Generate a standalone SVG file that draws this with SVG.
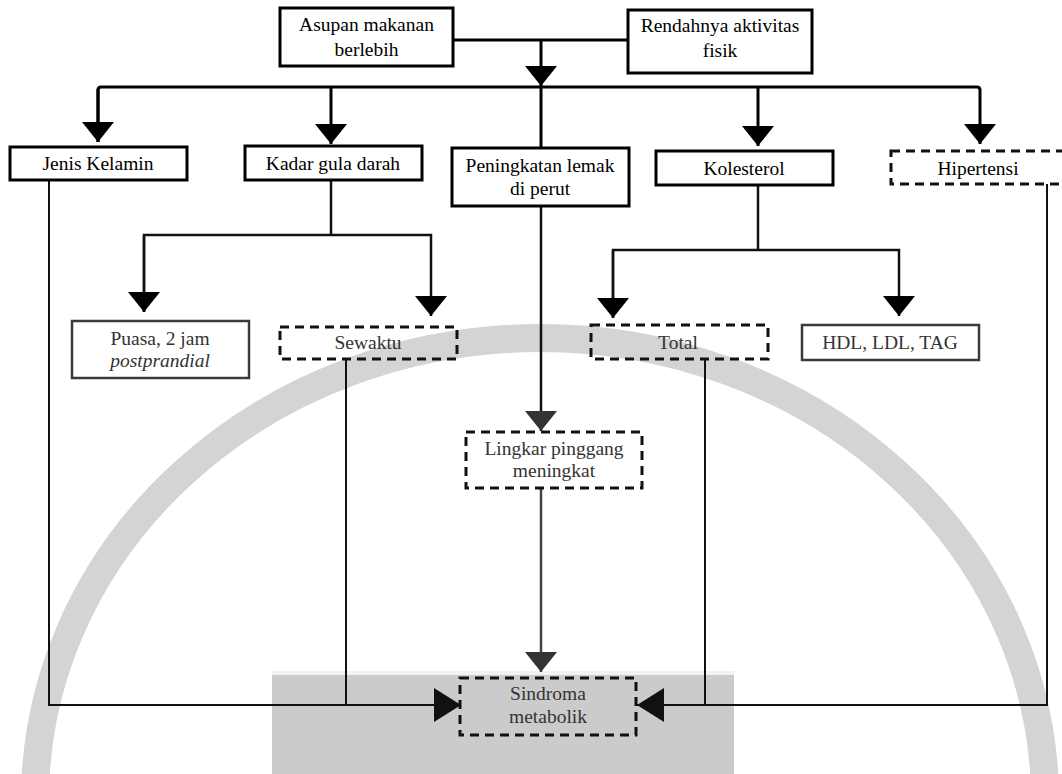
<svg xmlns="http://www.w3.org/2000/svg" width="1062" height="774" viewBox="0 0 1062 774">
<style>
  .box { fill: none; stroke: #000; stroke-width: 3; }
  .boxg { fill: none; stroke: #3a3a3a; stroke-width: 2.5; }
  .dash { fill: none; stroke: #111; stroke-width: 3; stroke-dasharray: 9 6; }
  .t { font-family: "Liberation Serif", "Times New Roman", serif; font-size: 19.5px; fill: #000; text-anchor: middle; }
  .tg { fill: #333; }
  .it { font-style: italic; }
  .thick { fill: none; stroke: #000; stroke-width: 3; }
  .mid { fill: none; stroke: #111; stroke-width: 2.5; }
  .thin { fill: none; stroke: #111; stroke-width: 2; }
</style>
<defs>
  <marker id="ah" markerUnits="userSpaceOnUse" viewBox="0 0 20 32" refX="20" refY="16" markerWidth="20" markerHeight="32" orient="auto">
    <path d="M0,0 L20,16 L0,32 Z" fill="#000"/>
  </marker>
  <marker id="ahg" markerUnits="userSpaceOnUse" viewBox="0 0 20 32" refX="20" refY="16" markerWidth="20" markerHeight="32" orient="auto">
    <path d="M0,0 L20,16 L0,32 Z" fill="#333"/>
  </marker>
  <marker id="ahh" markerUnits="userSpaceOnUse" viewBox="0 0 27 34" refX="27" refY="17" markerWidth="27" markerHeight="34" orient="auto">
    <path d="M0,0 L27,17 L0,34 Z" fill="#111"/>
  </marker>
</defs>
<rect width="1062" height="774" fill="#fff"/>
<g id="watermark">
  <ellipse cx="540" cy="800" rx="505" ry="462" fill="none" stroke="#d4d4d4" stroke-width="28"/>
  <rect x="272" y="671" width="462" height="4" fill="#f2f2f2"/>
  <rect x="272" y="675" width="462" height="99" fill="#cbcbcb"/>
</g>
<g id="connectors">
  <path class="thick" d="M453,40 H628"/>
  <path class="thick" d="M541,40 V86" marker-end="url(#ah)"/>
  <path class="thick" d="M98,142 V90 Q98,87 101,87 H977 Q980,87 980,90 V144" marker-end="url(#ah)"/>
  <path class="thick" d="M98,89 V142" marker-end="url(#ah)"/>
  <path class="thick" d="M331,87 V144" marker-end="url(#ah)"/>
  <path class="thick" d="M758,87 V146" marker-end="url(#ah)"/>
  <path class="thick" d="M541,86 V148"/>
  <path class="mid" d="M331,180 V235"/>
  <path class="mid" d="M144,312 V235 H431 V316" marker-end="url(#ah)"/>
  <path class="mid" d="M144,236 V312" marker-end="url(#ah)"/>
  <path class="mid" d="M758,185 V250"/>
  <path class="mid" d="M613,318 V250 H899 V316" marker-end="url(#ah)"/>
  <path class="mid" d="M613,251 V318" marker-end="url(#ah)"/>
  <path class="mid" d="M541,206 V431" marker-end="url(#ahg)"/>
  <path fill="none" stroke="#444" stroke-width="2.5" d="M541,488 V672" marker-end="url(#ahg)"/>
  <path class="thin" d="M49,180 V705 H461" marker-end="url(#ahh)"/>
  <path class="thin" d="M346,359 V705"/>
  <path class="thin" d="M1047,184 V705 H637" marker-end="url(#ahh)"/>
  <path class="thin" d="M705,359 V705"/>
</g>
<g id="n-asupan">
  <rect class="box" x="280" y="8" width="173" height="58"/>
  <text class="t" x="366.5" y="31">Asupan makanan</text>
  <text class="t" x="366.5" y="56">berlebih</text>
</g>
<g id="n-rendahnya">
  <rect class="box" x="628" y="10" width="184" height="63"/>
  <text class="t" x="720" y="32">Rendahnya aktivitas</text>
  <text class="t" x="720" y="57">fisik</text>
</g>
<g id="n-jenis">
  <rect class="box" x="10" y="147" width="177" height="33"/>
  <text class="t" x="98" y="170">Jenis Kelamin</text>
</g>
<g id="n-kadar">
  <rect class="box" x="245" y="146" width="177" height="34"/>
  <text class="t" x="333" y="170">Kadar gula darah</text>
</g>
<g id="n-peningkatan">
  <rect class="box" x="452" y="148" width="177" height="58"/>
  <text class="t" x="540" y="172">Peningkatan lemak</text>
  <text class="t" x="540" y="195">di perut</text>
</g>
<g id="n-kolesterol">
  <rect class="box" x="656" y="151" width="177" height="34"/>
  <text class="t" x="744" y="175">Kolesterol</text>
</g>
<g id="n-hipertensi">
  <rect class="dash" x="891" y="151" width="180" height="33"/>
  <text class="t" x="978" y="175">Hipertensi</text>
</g>
<g id="n-puasa">
  <rect class="boxg" x="72" y="321" width="177" height="57"/>
  <text class="t tg" x="160" y="345">Puasa, 2 jam</text>
  <text class="t tg it" x="160" y="367">postprandial</text>
</g>
<g id="n-sewaktu">
  <rect class="dash" x="280" y="327" width="177" height="32"/>
  <text class="t tg" x="368" y="349">Sewaktu</text>
</g>
<g id="n-total">
  <rect class="dash" x="591" y="325" width="177" height="34"/>
  <text class="t tg" x="678" y="349">Total</text>
</g>
<g id="n-hdl">
  <rect class="boxg" x="802" y="325" width="177" height="35"/>
  <text class="t tg" x="890" y="349">HDL, LDL, TAG</text>
</g>
<g id="n-lingkar">
  <rect class="dash" x="466" y="432" width="176" height="56"/>
  <text class="t tg" x="554" y="455">Lingkar pinggang</text>
  <text class="t tg" x="554" y="477">meningkat</text>
</g>
<g id="n-sindroma">
  <rect class="dash" x="460" y="678" width="176" height="57"/>
  <text class="t tg" x="548" y="700">Sindroma</text>
  <text class="t tg" x="548" y="723">metabolik</text>
</g>
</svg>
